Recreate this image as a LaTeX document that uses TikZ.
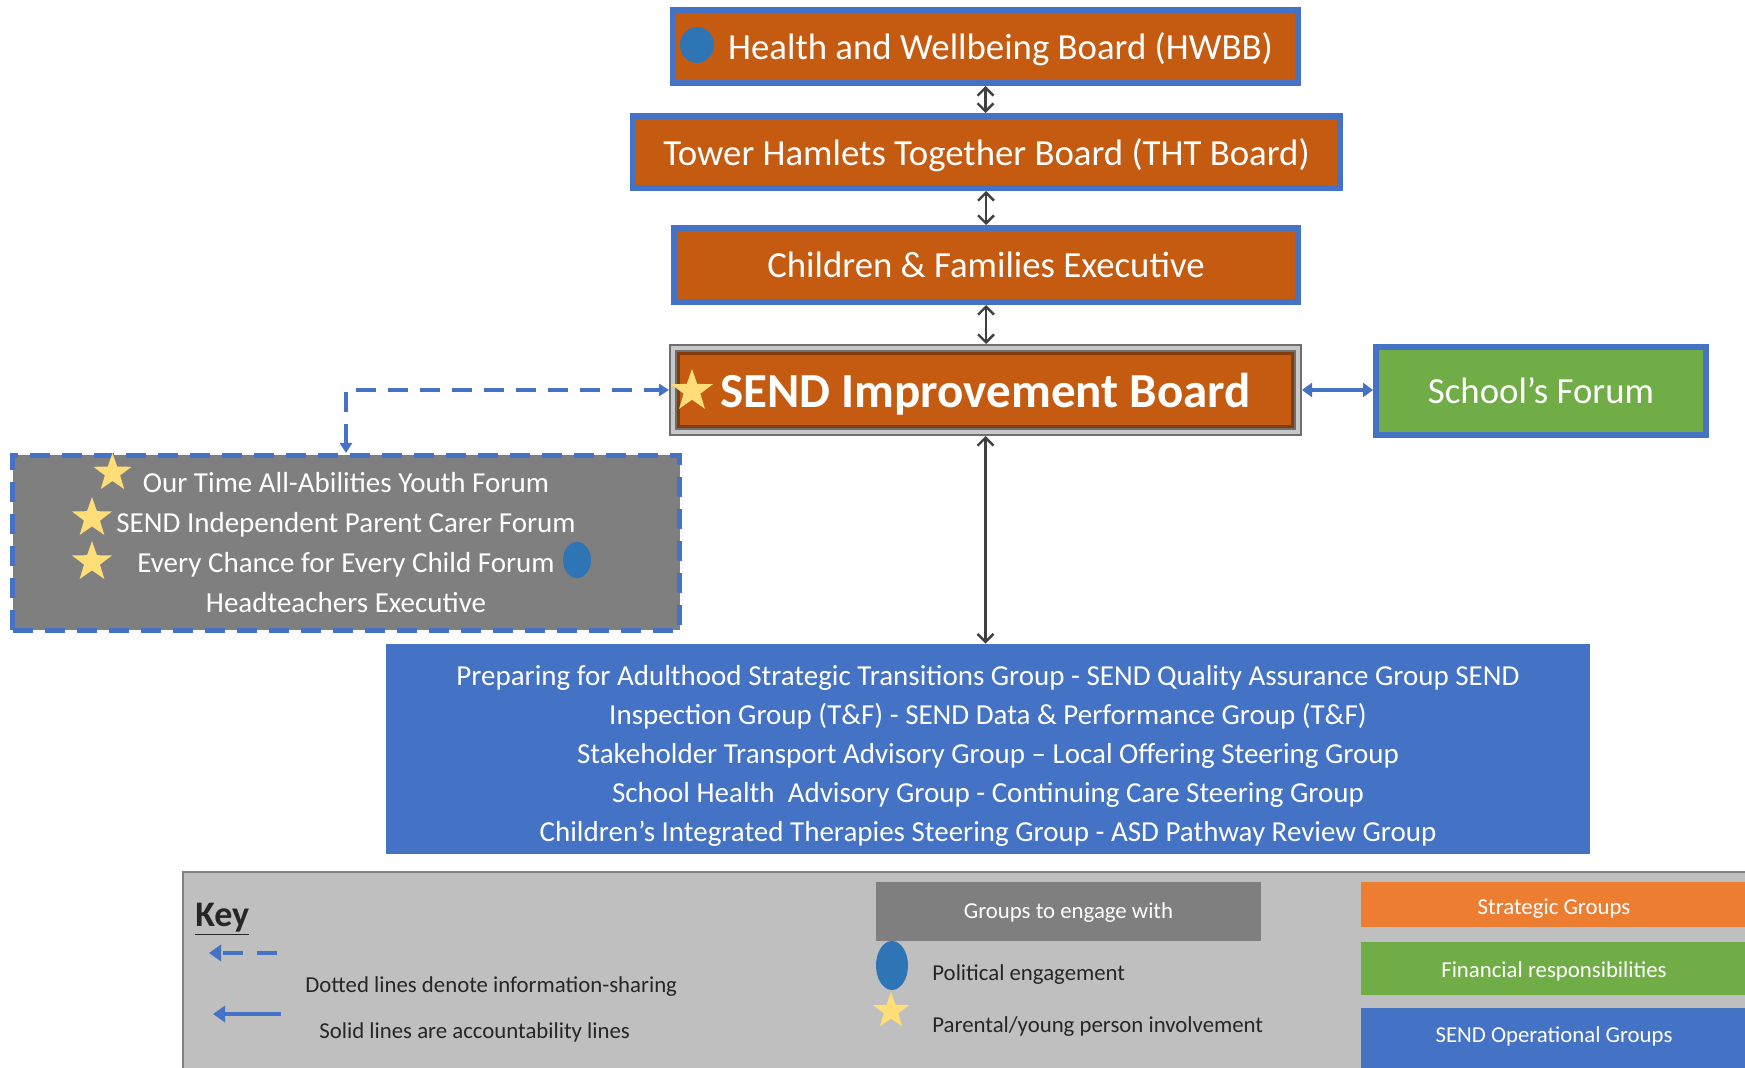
\documentclass[tikz,border=0pt]{standalone}
\usepackage{fontspec}
\setmainfont{Carlito}
\usepackage{tikz}
\usetikzlibrary{arrows.meta,shapes.geometric,calc}

\definecolor{stratorange}{RGB}{197,90,17}
\definecolor{boardblue}{RGB}{68,114,196}
\definecolor{financegreen}{RGB}{112,173,71}
\definecolor{engagegray}{RGB}{127,127,127}
\definecolor{keybg}{RGB}{191,191,191}
\definecolor{keyline}{RGB}{130,130,130}
\definecolor{polblue}{RGB}{46,117,182}
\definecolor{starfill}{RGB}{255,222,120}
\definecolor{legorange}{RGB}{237,125,49}
\definecolor{linkgray}{RGB}{64,64,64}
\definecolor{sibbrown}{RGB}{132,60,12}
\definecolor{keytext}{RGB}{38,38,38}

\tikzset{
  board/.style={draw=boardblue, line width=3pt, fill=stratorange, text=white, inner sep=0pt, text depth=0pt, font=\fontsize{18.4}{22}\selectfont},
  govlink/.style={linkgray, line width=1.2pt, {Straight Barb[length=4pt,width=8pt]}-{Straight Barb[length=4pt,width=8pt]}},
  infolink/.style={boardblue, line width=2pt, dash pattern=on 10pt off 6pt, {Triangle[length=5pt,width=6pt]}-{Triangle[length=5pt,width=6pt]}},
  fundlink/.style={boardblue, line width=2pt, {Triangle[length=5pt,width=7pt]}-{Triangle[length=5pt,width=7pt]}},
  starmark/.style={star, star points=5, star point ratio=2.5, fill=starfill, inner sep=0pt},
  polmark/.style={ellipse, fill=polblue, inner sep=0pt},
  legbox/.style={text=white, inner sep=0pt, text height=9pt, text depth=0pt, font=\fontsize{11.4}{13}\selectfont},
  keylabel/.style={anchor=west, inner sep=0pt, text=keytext, font=\fontsize{11.4}{13}\selectfont}
}

\begin{document}
\begin{tikzpicture}[x=0.5pt,y=0.5pt,yscale=-1,xscale=1]
\useasboundingbox (0,0) rectangle (1745,1068);

%Shape: Rectangle [HWBB]
\draw (985.5,46.5) node [board, minimum width=312.5pt, minimum height=36.5pt] (hwbb) {\hspace*{15pt}Health and Wellbeing Board (HWBB)};
\draw (697,45) node [polmark, minimum width=17pt, minimum height=18pt] (hwbbpol) {};
%Shape: Rectangle [THT]
\draw (986.5,152) node [board, minimum width=353.5pt, minimum height=36pt] (tht) {Tower Hamlets Together Board (THT Board)};
%Shape: Rectangle [C&F]
\draw (986,265) node [board, minimum width=312pt, minimum height=37pt] (cfe) {Children \& Families Executive};
%Shape: Rectangle [SEND board]
\draw (985.5,390) node [board, draw=sibbrown, line width=1.5pt, outer sep=4.75pt, minimum width=307pt, minimum height=36.5pt, font=\fontsize{24.5}{28}\bfseries] (sib) {SEND Improvement Board};
\draw [draw={rgb,255:red,110;green,110;blue,110}, double={rgb,255:red,200;green,200;blue,200}, line width=1pt, double distance=2pt] ($(sib.north west)+(4,4)$) rectangle ($(sib.south east)+(-4,-4)$);
\draw (692,391) node [starmark, minimum size=22pt] (sibstar) {};
%Shape: Rectangle [School's Forum]
\draw (1541,391) node [board, fill=financegreen, minimum width=165pt, minimum height=44pt] (sfo) {School’s Forum};

%Shape: Rectangle [groups to engage with]
\draw (346,543) node [draw=boardblue, line width=2.5pt, dash pattern=on 10pt off 6pt, fill=engagegray, text=white, inner sep=0pt, minimum width=333.5pt, minimum height=87.5pt, align=center, font=\fontsize{14.5}{20}\selectfont] (engage) {Our Time All-Abilities Youth Forum\\SEND Independent Parent Carer Forum\\Every Chance for Every Child Forum\\Headteachers Executive};
\draw (112.5,473) node [starmark, minimum size=20pt] (star1) {};
\draw (92,518) node [starmark, minimum size=21pt] (star2) {};
\draw (92,562) node [starmark, minimum size=21pt] (star3) {};
\draw (577,560) node [polmark, minimum width=14pt, minimum height=18pt] (engagepol) {};

%Shape: Rectangle [operational groups]
\draw (988,749) node [fill=boardblue, inner sep=0pt, minimum width=602pt, minimum height=105pt] (ops) {};
% Text Node
\draw (988,756) node [text=white, inner sep=0pt, align=center, font=\fontsize{14.5}{19.6}\selectfont] (opstext) {Preparing for Adulthood Strategic Transitions Group - SEND Quality Assurance Group SEND\\Inspection Group (T\&F) - SEND Data \& Performance Group (T\&F)\\Stakeholder Transport Advisory Group – Local Offering Steering Group\\School Health\ \ Advisory Group - Continuing Care Steering Group\\Children's Integrated Therapies Steering Group - ASD Pathway Review Group};

%Straight Lines
\draw [govlink] (hwbb.south) -- (hwbb.south |- tht.north);
\draw [govlink] (cfe.north) -- (cfe.north |- tht.south);
\draw [govlink] (cfe.south) -- (cfe.south |- sib.north);
\draw [govlink] (sib.south) -- (sib.south |- ops.north);
\draw [fundlink] (sib.east) -- (sib.east -| sfo.west);
\draw [infolink] (engage.north) |- (sib.west);

%Shape: Rectangle [key]
\draw [draw=keyline, fill=keybg, line width=1pt] (183,872) rectangle (1800,1100);
\draw (195,919.5) node [keylabel, font=\fontsize{18}{20}\bfseries] (keytitle) {\underline{Key}};
\coordinate (dashfrom) at (277,953);
\coordinate (dashto) at (209,953);
\draw [boardblue, line width=2pt, dash pattern=on 10pt off 7pt, -{Triangle[length=6pt,width=8pt]}] (dashfrom) -- (dashto);
\draw (305,986.5) node [keylabel] (dashlabel) {Dotted lines denote information-sharing};
\coordinate (solidfrom) at (281,1014);
\coordinate (solidto) at (213,1014);
\draw [boardblue, line width=2pt, -{Triangle[length=6pt,width=8pt]}] (solidfrom) -- (solidto);
\draw (319,1032) node [keylabel] (solidlabel) {Solid lines are accountability lines};

\draw (1068.5,911.5) node [legbox, fill=engagegray, minimum width=192.5pt, minimum height=29.5pt, text height=7pt] (legengage) {Groups to engage with};
\draw (892,965.5) node [polmark, minimum width=16pt, minimum height=24.5pt] (legpol) {};
\draw (932,975) node [keylabel] (pollabel) {Political engagement};
\draw (891,1011) node [starmark, minimum size=19pt] (legstar) {};
\draw (932,1027) node [keylabel] (starlabel) {Parental/young person involvement};

\draw (1554,904.5) node [legbox, fill=legorange, minimum width=193pt, minimum height=22.5pt, text height=10pt] (legstrat) {Strategic Groups};
\draw (1554,968.5) node [legbox, fill=financegreen, minimum width=193pt, minimum height=26.5pt] (legfin) {Financial responsibilities};
\draw (1554,1040) node [legbox, fill=boardblue, minimum width=193pt, minimum height=32pt, text height=2.5pt] (legops) {SEND Operational Groups};

\end{tikzpicture}
\end{document}
